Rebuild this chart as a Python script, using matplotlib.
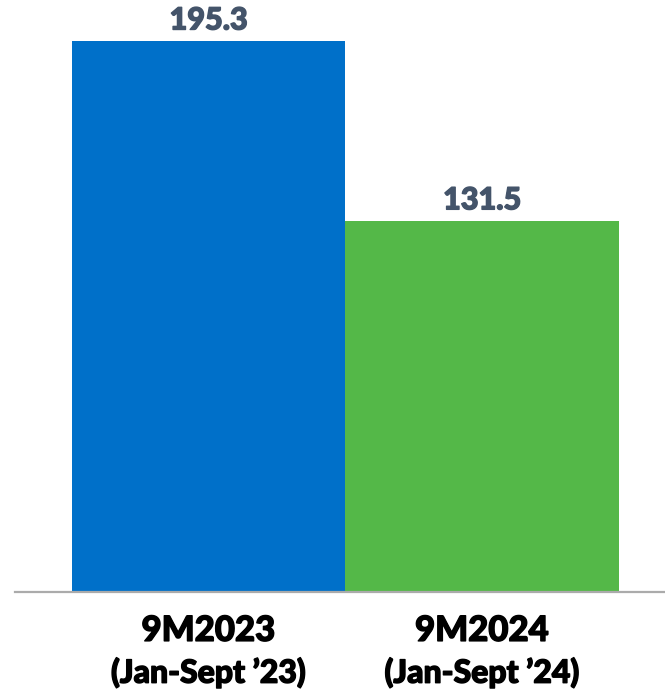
import matplotlib
matplotlib.use("Agg")
import matplotlib.pyplot as plt
import matplotlib.patheffects as pe

periods = ["9M2023", "9M2024"]
ranges = ["(Jan-Sept \u201923)", "(Jan-Sept \u201924)"]
values = [195.3, 131.5]
colors = ["#0070C9", "#54B848"]

fig = plt.figure(figsize=(6.65, 6.91), dpi=100)
ax = fig.add_axes([15 / 665, 99 / 691, 650 / 665, 592 / 691])

x = list(range(len(values)))
ax.bar(x, values, width=1.0, color=colors)
ax.set_xlim(-0.7075, 1.669)
ax.set_ylim(0, 210)

def thick(c):
    return [pe.withStroke(linewidth=1.0, foreground=c)]

for xi, v in zip(x, values):
    ax.annotate(f"{v:.1f}", (xi, v), xytext=(0, 5), textcoords="offset points",
                ha="center", va="bottom", fontsize=22, fontweight="black",
                color="#44546A", family="Lato", path_effects=thick("#44546A"))

for xi, p, r in zip(x, periods, ranges):
    ax.annotate(p, (xi, 0), xycoords=("data", "axes fraction"), xytext=(0, -28),
                textcoords="offset points", ha="center", va="center",
                fontsize=25, fontweight="black", color="black", family="Lato",
                path_effects=thick("black"))
    ax.annotate(r, (xi, 0), xycoords=("data", "axes fraction"), xytext=(0, -58),
                textcoords="offset points", ha="center", va="center",
                fontsize=23, fontweight="black", color="black", family="Lato",
                path_effects=thick("black"))

for s in ["top", "left", "right"]:
    ax.spines[s].set_visible(False)
ax.spines["bottom"].set_color("#ABABAB")
ax.spines["bottom"].set_linewidth(1.6)
ax.set_xticks([])
ax.set_yticks([])

fig.savefig("out.png", dpi=100)
